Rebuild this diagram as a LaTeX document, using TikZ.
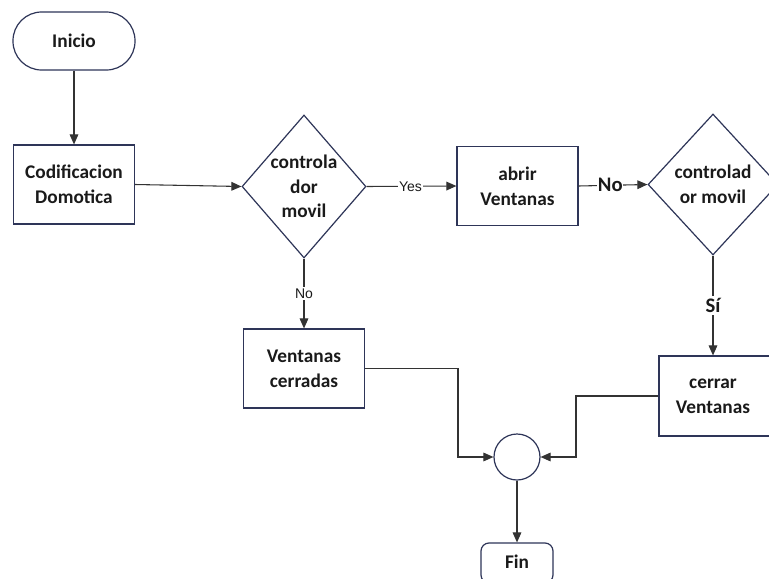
\documentclass[tikz,border=0pt]{standalone}
\usepackage{fontspec}
\setmainfont{Carlito}
\newfontfamily\arialfont{Liberation Sans}
\usetikzlibrary{shapes.geometric,arrows.meta}
\definecolor{shapeline}{HTML}{2E3558}
\definecolor{conn}{HTML}{333333}
\definecolor{txt}{HTML}{1A1A1A}
\tikzset{
  bfont/.style={font=\bfseries\fontsize{14.5}{18.5}\selectfont, text=txt},
  box/.style={draw=shapeline, line width=0.9pt, rectangle, minimum width=121*0.75pt, minimum height=79*0.75pt, inner sep=0pt, align=center, bfont},
  dec/.style={draw=shapeline, line width=0.9pt, diamond, aspect=0.87, minimum width=124*0.75pt, minimum height=143*0.75pt, inner sep=0pt, align=center, bfont},
  conn/.style={draw=conn, line width=0.8pt, -{Triangle[length=7.5,width=6.5]}},
  lbl/.style={fill=white, inner sep=1pt, text=txt},
}
\begin{document}
\begin{tikzpicture}[x=0.75pt, y=-0.75pt]
\useasboundingbox (0,0) rectangle (769,579);
\clip (0,0) rectangle (769,579);
\fill[white] (0,0) rectangle (769,579);
% nodes
\node[draw=shapeline, line width=0.9pt, rounded corners=21.5pt, minimum width=122*0.75pt, minimum height=58*0.75pt, inner sep=0pt, bfont] (ini) at (74,41) {Inicio};
\node[box] (cod) at (74,184.5) {Codificacion\\Domotica};
\node[dec] (d1) at (304,186.5) {controla\\dor\\movil};
\node[box] (abr) at (517.5,186) {abrir\\Ventanas};
\node[dec, minimum width=130*0.75pt, minimum height=141*0.75pt] (d2) at (713,184.5) {controlad\\or movil};
\node[box] (vc) at (304,368.5) {Ventanas\\cerradas};
\node[box, minimum width=114*0.75pt, minimum height=80*0.75pt] (cv) at (716,396) {};
\node[bfont, align=center] (cvt) at (713,396) {cerrar\\Ventanas};
\node[draw=shapeline, line width=0.9pt, circle, minimum size=46*0.75pt, inner sep=0pt] (j) at (517,457) {};
\node[draw=shapeline, line width=0.9pt, rounded corners=6pt, minimum width=72*0.75pt, minimum height=40*0.75pt, inner sep=0pt] (fin) at (517,563) {};
\node[bfont] (fint) at (517,562) {Fin};
% connectors
\draw[conn] (ini.south) -- (cod.north);
\draw[conn] (cod.east) -- (d1.west);
\draw[conn] (d1.east) -- node[lbl, font=\arialfont\fontsize{10.5}{12}\selectfont, xshift=-0.75pt] {Yes} (abr.west);
\draw[conn] (abr.east) -- node[lbl, font=\bfseries\fontsize{15.5}{17}\selectfont, xshift=-2pt, inner sep=0.5pt] {No} (d2.west);
\draw[conn] (d1.south) -- node[lbl, font=\arialfont\fontsize{10.5}{12}\selectfont, pos=0.5] {No} (vc.north);
\draw[conn] (d2.south) -- node[lbl, font=\bfseries\fontsize{15.5}{17}\selectfont, pos=0.5, inner sep=2pt] {Sí} (d2.south |- cv.north);
\draw[conn] (vc.east) -- (458,368.5) |- (j.west);
\draw[conn] (cv.west) -- (576,396) |- (j.east);
\draw[conn] (j.south) -- (fin.north);
\end{tikzpicture}
\end{document}
